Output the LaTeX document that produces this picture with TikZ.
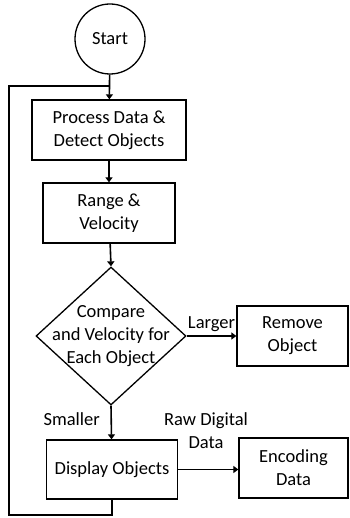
\documentclass[tikz,border=0pt]{standalone}
\usepackage{fontspec}
\setmainfont{Carlito}
\usetikzlibrary{positioning, shapes, arrows.meta, calc}

\begin{document}
\begin{tikzpicture}[
    x=1pt, y=1pt,
    font=\fontsize{18.5}{23}\selectfont,
    box/.style={draw, line width=1.3pt, align=center, inner sep=0pt},
    flow/.style={line width=1.6pt, -{Triangle[width=7pt, length=5pt]}},
    loopline/.style={line width=1.6pt}
]

% Canvas
\useasboundingbox (0,0) rectangle (349,-518);

% Nodes
\node[box, circle, minimum size=70] (start) at (110,-39) {Start};
\node[box, minimum width=154, minimum height=60] (proc) at (109,-130) {Process Data \&\\Detect Objects};
\node[box, minimum width=132, minimum height=60] (range) at (109,-213) {Range \&\\Velocity};
\node[box, diamond, minimum width=150, minimum height=138,
      label={[align=center]center:Compare\\and Velocity for\\Each Object}] (cmp) at (111,-336) {};
\node[box, minimum width=111, minimum height=60] (remove) at (292.5,-336) {Remove\\Object};
\node[box, minimum width=131, minimum height=59] (display) at (112,-469.5) {Display Objects};
\node[box, minimum width=109, minimum height=60] (encode) at (293.5,-468) {Encoding\\Data};

% Connectors
\draw[flow] (start) -- (proc);
\draw[flow] (proc) -- (range);
\draw[flow] (range) -- (cmp.north);
\draw[flow] (cmp.east) -- node[above, inner sep=4pt] (larger) {Larger} (remove);
\draw[flow] (cmp.south) -- (display);
\node[left=8pt of $(cmp.south)!0.4!(display.north)$] (smaller) {Smaller};
\draw[flow] (display) -- (display -| encode.west);
\node[align=center] (raw) at (206,-431) {Raw Digital\\Data};

% Loop back
\coordinate (back) at (9,-515);
\coordinate (join) at (9,-86);
\draw[loopline] (display.south) |- (back) -- (join) -- (join -| proc.north);

\end{tikzpicture}
\end{document}
